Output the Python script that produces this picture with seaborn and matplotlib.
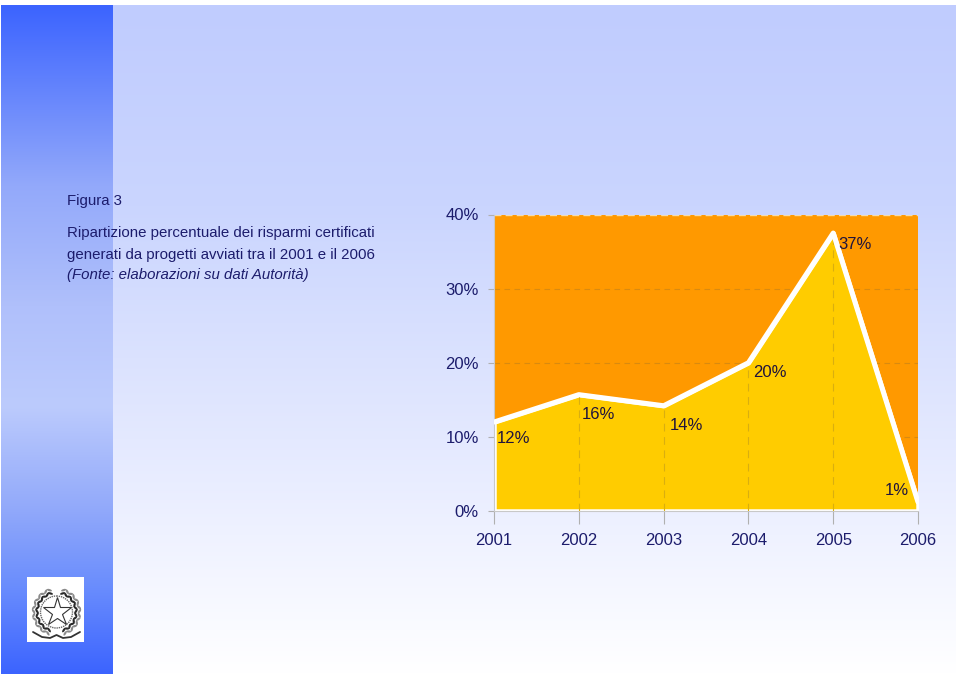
import numpy as np
import pandas as pd
import matplotlib
matplotlib.use('Agg')
import matplotlib.pyplot as plt
import matplotlib.patches as mpatches
from matplotlib.colors import LinearSegmentedColormap
import seaborn as sns

# Datos
anni = [2001, 2002, 2003, 2004, 2005, 2006]
valori = [12.0, 15.7, 14.2, 20.0, 37.5, 1.2]
etichette = ['12%', '16%', '14%', '20%', '37%', '1%']
tick_y = [0, 10, 20, 30, 40]

W, H = 960, 674
sns.set_theme(style='white')
plt.rcParams['font.family'] = ['Liberation Sans', 'DejaVu Sans']

blu = '#1c1c6c'
fig = plt.figure(figsize=(W / 100, H / 100), dpi=100, facecolor='white')


def box(x0, y0, x1, y1, **kw):
    # riquadro in pixel (origine in alto a sinistra)
    return fig.add_axes([x0 / W, 1 - y1 / H, (x1 - x0) / W, (y1 - y0) / H], **kw)


# Sfondo sfumato
bg = box(1, 5, 955, 674, zorder=0)
bg.imshow(np.linspace(0, 1, 256).reshape(-1, 1), aspect='auto',
          cmap=LinearSegmentedColormap.from_list('s', [(0, '#c0ccff'), (0.3, '#cad5fe'),
                                                       (0.65, '#e4e9ff'), (1, '#ffffff')]))
bg.axis('off')

banda = box(1, 5, 113, 674, zorder=1)
banda.imshow(np.linspace(0, 1, 256).reshape(-1, 1), aspect='auto',
             cmap=LinearSegmentedColormap.from_list('b', [(0, '#3c64ff'), (0.27, '#93a9fa'),
                                                          (0.45, '#b0c0fb'), (0.6, '#bccbfd'),
                                                          (0.75, '#93aafa'), (0.87, '#6a8dfd'),
                                                          (1, '#3c64ff')]))
banda.axis('off')

# Stemma, coordinate in pixel
st = box(27, 577, 84, 642, zorder=2)
st.set_xlim(27, 84)
st.set_ylim(642, 577)
st.set_facecolor('white')
st.set_xticks([])
st.set_yticks([])
sns.despine(ax=st, left=True, bottom=True)
cx, cy = 56.5, 612
for lato in (-1, 1):
    for i, ang in enumerate(np.arange(18, 168, 10)):
        a = np.deg2rad(ang)
        for r, col in ((19.5, '#2a2a2a'), (23, '#8a8a8a')):
            st.add_patch(mpatches.Ellipse((cx + lato * r * np.sin(a), cy - r * np.cos(a)), 5.2, 2.2,
                                          angle=lato * (ang + (35 if i % 2 else -35)), color=col, lw=0))
st.add_patch(mpatches.Circle((cx, cy), 16, fill=False, ec='#666666', lw=1.0, ls=(0, (1, 0.6))))
st.plot([cx], [cy - 0.5], marker='*', ms=21, mfc='white', mec='#333333', mew=0.8)
st.plot([33, 42, 50, 56.5, 63, 71, 80], [632, 637, 638, 635, 638, 637, 632], color='#333333', lw=1.3)

# Grafico
ax = box(494, 214.5, 918, 511, zorder=3)
ax.set_facecolor('#ff9900')
df = pd.DataFrame({'anno': anni, 'valore': valori})

for y in tick_y[1:-1]:
    ax.axhline(y, color='#d98a10', lw=0.8, ls=(0, (5, 4)), zorder=1)
ax.axhline(tick_y[-1], color='#f7dca8', lw=1.0, ls=(0, (5, 3)), zorder=1)
ax.fill_between(df['anno'], 0, df['valore'], facecolor='#ffcc00', edgecolor='white', lw=3.2, zorder=2)
ax.vlines(anni[1:5], 0, valori[1:5], color='#d9ae10', lw=0.8, ls=(0, (7, 5)), zorder=3)
sns.lineplot(data=df, x='anno', y='valore', color='white', lw=3.6, ax=ax, zorder=4,
             errorbar=None, legend=False)

ax.set_xlim(2001, 2006)
ax.set_ylim(0, 40)
ax.set_xticks(anni)
ax.set_yticks(tick_y)
ax.set_yticklabels([f'{v}%' for v in tick_y])
ax.set_xlabel('')
ax.set_ylabel('')
ax.tick_params(axis='x', length=9, width=0.8, color='#b0b0b0', labelsize=12, labelcolor=blu, pad=6.6, bottom=True)
ax.tick_params(axis='y', length=4.3, width=0.8, color='#b0b0b0', labelsize=12, labelcolor=blu, pad=6.5, left=True)
for lato, sp in ax.spines.items():
    sp.set_visible(lato in ('left', 'bottom'))
    sp.set_color('#c8c8c8')
    sp.set_linewidth(0.8)

# Etichette dei dati (scarto in pixel dal punto)
scarti = [(3, -16), (3, -20), (6, -20), (5, -10), (5, -11), (-33, 12)]
for a, v, e, s in zip(anni, valori, etichette, scarti):
    ax.annotate(e, (a, v), xytext=(s[0] * 0.72, s[1] * 0.72), textcoords='offset points',
                fontsize=12, color='#20143c', va='center', ha='left', zorder=6, annotation_clip=False)

# Testi
fig.text(67 / W, 1 - 201 / H, 'Figura 3', fontsize=10.8, color=blu, va='center')
fig.text(67 / W, 1 - 233 / H, 'Ripartizione percentuale dei risparmi certificati', fontsize=10.8, color=blu, va='center')
fig.text(67 / W, 1 - 255 / H, 'generati da progetti avviati tra il 2001 e il 2006', fontsize=10.8, color=blu, va='center')
fig.text(67 / W, 1 - 275 / H, '(Fonte: elaborazioni su dati Autorità)', fontsize=10.8, color=blu, va='center', style='italic')

fig.savefig('out.png', dpi=100)
